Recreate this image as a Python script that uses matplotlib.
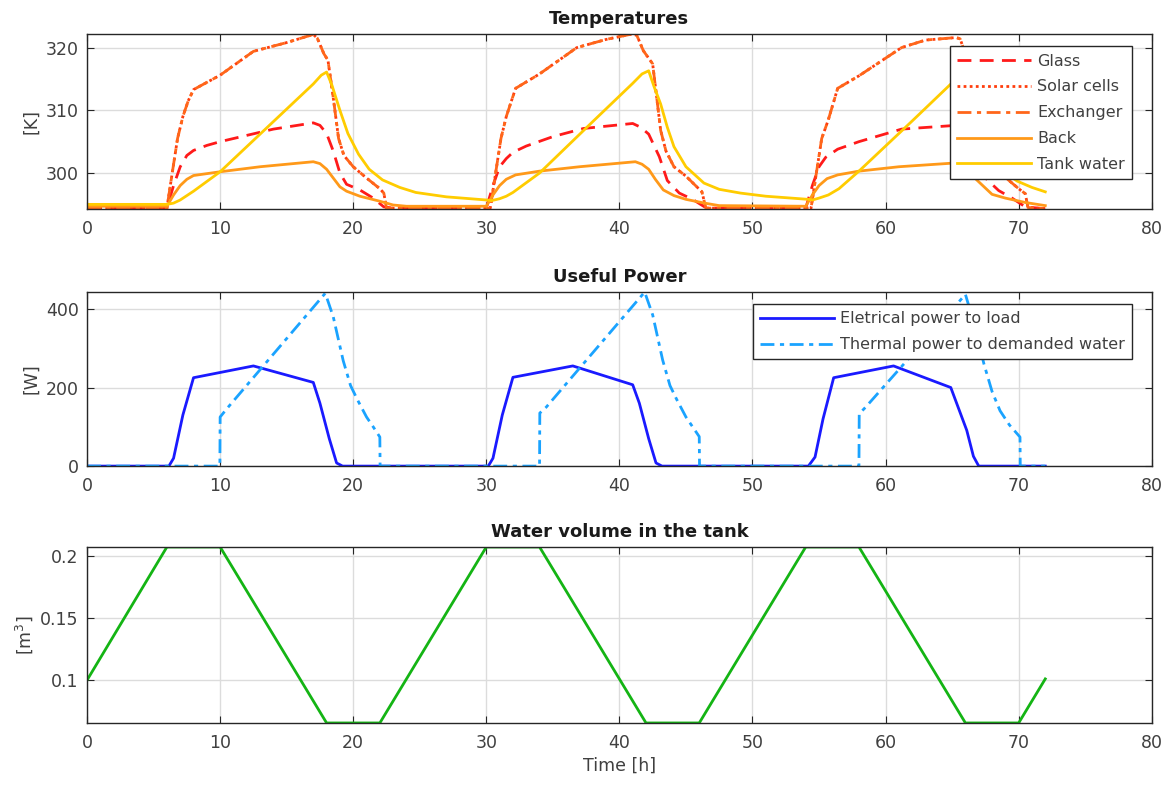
import matplotlib
matplotlib.use("Agg")
import matplotlib.pyplot as plt

# ---- Temperatures [K] ----
glass_t = [0, 6, 6.5, 7, 7.5, 8, 9, 10, 12, 14, 17, 17.5, 18, 18.5, 19, 19.5, 20.5, 21.5, 22.3, 23,
           30, 30.5, 31, 31.5, 32, 33, 35, 37.3, 41, 41.6, 42.2, 43, 43.6, 44.5, 45.5, 46.4, 47,
           54, 54.5, 55, 55.5, 56.4, 58, 61.2, 65.3, 65.8, 66.3, 67, 67.6, 68.5, 69.5, 70.5, 72]
glass_T = [294.4, 294.4, 298.0, 301.0, 302.8, 303.6, 304.4, 305.0, 306.0, 307.0, 308.0, 307.6, 306.3, 303.5, 300.0, 298.2, 297.3, 296.0, 294.6, 294.4,
           294.4, 298.0, 301.0, 302.3, 303.3, 304.3, 305.8, 307.1, 307.9, 307.3, 306.2, 302.6, 298.8, 296.8, 295.8, 294.6, 294.4,
           294.4, 298.0, 301.0, 302.5, 303.8, 305.0, 307.0, 307.6, 307.2, 306.0, 302.0, 299.0, 297.2, 296.0, 294.6, 294.3]

exch_t = [0, 6, 6.4, 6.8, 7.2, 7.6, 8, 10, 12.5, 15, 17, 17.3, 17.8, 18.1, 18.5, 18.9, 19.3, 20, 21, 22, 22.3, 22.5,
          30.3, 30.7, 31.1, 31.5, 32.2, 34, 36.8, 39, 40.8, 41.3, 41.8, 42.5, 43.1, 43.5, 44.1, 45, 46.2, 46.5,
          54.4, 54.8, 55.2, 55.7, 56.4, 58, 61.2, 63, 65.3, 65.6, 66, 66.5, 67, 67.5, 68.2, 69, 70, 70.5, 70.7, 72]
exch_T = [294.4, 294.4, 300.0, 305.5, 309.0, 311.5, 313.3, 315.6, 319.4, 320.8, 322.1, 321.5, 319.0, 318.0, 312.0, 305.5, 302.8, 301.0, 299.2, 297.5, 296.8, 294.4,
          294.4, 300.0, 305.5, 309.0, 313.5, 315.8, 320.0, 321.3, 322.1, 322.0, 319.5, 317.4, 306.8, 303.5, 301.0, 299.5, 297.0, 294.4,
          294.4, 300.0, 305.5, 308.5, 313.5, 315.5, 320.0, 321.2, 321.6, 321.4, 319.0, 316.5, 306.0, 303.0, 301.0, 299.3, 297.5, 296.7, 294.5, 294.3]

# solar cells sit right under the exchanger curve in the picture
cells_t = exch_t
cells_T = exch_T

back_t = [0, 6, 6.5, 7, 7.5, 8, 10, 13, 17, 17.5, 18, 18.5, 19, 19.5, 20.5, 22, 23, 24,
          30, 30.5, 31, 31.5, 32.2, 34, 37, 41.2, 41.7, 42.2, 42.7, 43.3, 44.1, 45, 46.4, 47.5,
          54, 54.5, 55, 55.6, 56.4, 58, 61, 65.2, 65.7, 66.2, 66.8, 67.3, 68, 69, 70.5, 72]
back_T = [294.7, 294.7, 296.5, 298.0, 299.0, 299.6, 300.2, 301.0, 301.8, 301.5, 300.6, 299.2, 297.8, 297.1, 296.3, 295.5, 294.9, 294.7,
          294.7, 296.5, 298.0, 299.0, 299.7, 300.3, 301.0, 301.8, 301.4, 300.6, 299.0, 297.3, 296.4, 295.8, 295.2, 294.8,
          294.7, 296.5, 298.0, 299.1, 299.7, 300.3, 301.0, 301.6, 301.3, 300.4, 299.0, 298.0, 296.6, 296.0, 295.3, 294.8]

tank_t = [0, 6, 6.5, 7, 7.5, 8, 10, 14, 17, 17.6, 18, 18.4, 19, 19.6, 20.4, 21.2, 22.2, 23.5, 24.7, 27, 30,
          30.4, 31, 31.5, 32, 34, 38, 41, 41.7, 42.2, 42.6, 43.1, 43.6, 44.1, 45, 46.35, 47.5, 49.1, 51, 54.2,
          54.5, 55, 55.7, 56.5, 58, 62, 65.3, 66, 66.3, 66.8, 67.3, 68, 69, 69.9, 71, 72]
tank_T = [295.0, 295.0, 295.2, 295.7, 296.4, 297.1, 300.2, 308.2, 314.2, 315.6, 316.1, 314.0, 310.0, 306.3, 303.0, 300.6, 298.9, 297.7, 296.9, 296.2, 295.7,
          295.6, 295.9, 296.3, 296.9, 300.0, 308.2, 314.3, 315.8, 316.3, 313.8, 311.0, 307.3, 304.2, 301.0, 298.4, 297.4, 296.8, 296.3, 295.8,
          295.7, 296.0, 296.5, 297.5, 300.3, 308.3, 315.0, 316.0, 315.5, 312.0, 308.0, 303.5, 300.0, 298.7, 297.7, 297.0]

# ---- Useful power [W] ----
elec_t = [0, 6.15, 6.5, 7.2, 8, 12.5, 17, 17.5, 18.2, 18.75, 19.2,
          30.15, 30.5, 31.2, 32, 36.5, 41, 41.5, 42.2, 42.75, 43.2,
          54.2, 54.7, 55.3, 56.1, 60.6, 64.9, 66.1, 66.6, 67, 72]
elec_P = [0, 0, 20, 130, 225, 255, 213, 160, 70, 8, 0,
          0, 20, 130, 226, 255, 207, 160, 70, 8, 0,
          0, 23, 120, 225, 255, 200, 91, 25, 0, 0]

therm_t = [0, 9.98, 10.0, 10.5, 17.9, 18.5, 19.25, 19.8, 20.3, 21, 21.5, 22, 22.02,
           34.0, 34.02, 34.5, 41.9, 42.5, 43.25, 43.8, 44.3, 45, 45.5, 46, 46.02,
           58.0, 58.02, 58.5, 66.0, 66.5, 67.4, 68.0, 68.6, 69.3, 70.1, 70.12, 72]
therm_P = [0, 0, 125, 146, 440, 380, 268, 205, 170, 125, 100, 74, 0,
           0, 135, 150, 443, 385, 270, 205, 170, 125, 100, 75, 0,
           0, 133, 150, 437, 380, 259, 190, 141, 105, 74, 0, 0]

# ---- Water volume in the tank [m3] ----
vol_t = [0, 6, 10, 18, 22, 30, 34, 42, 46, 54, 58, 66, 70, 72]
vol_V = [0.1, 0.207, 0.207, 0.0656, 0.0656, 0.207, 0.207, 0.0656, 0.0656, 0.207, 0.207, 0.0656, 0.0656, 0.101]

plt.rcParams['font.family'] = ['DejaVu Sans']
plt.rcParams['font.size'] = 12.5

fig = plt.figure(figsize=(11.7, 7.86), dpi=100)
ax1 = fig.add_axes([0.0744, 0.734, 0.910, 0.2226])
ax2 = fig.add_axes([0.0744, 0.407, 0.910, 0.2214])
ax3 = fig.add_axes([0.0744, 0.0802, 0.910, 0.2239])

edge = '#262626'
lab = '#404040'


def style(ax):
    ax.set_xlim(0, 80)
    ax.set_xticks(range(0, 81, 10))
    ax.grid(True, color='#dcdcdc', linewidth=1.0)
    ax.set_axisbelow(True)
    ax.tick_params(direction='in', top=True, right=True, colors=edge, labelcolor=lab,
                   labelsize=12.5, length=5)
    ax.tick_params(axis='x', pad=8)
    ax.tick_params(axis='y', pad=6)
    for s in ax.spines.values():
        s.set_color(edge)
        s.set_linewidth(1.0)


def legend(ax):
    leg = ax.legend(loc='upper right', bbox_to_anchor=(0.9815, 0.93), fontsize=11.5,
                    handlelength=4.6, borderpad=0.45, labelspacing=0.68, handletextpad=0.4,
                    borderaxespad=0.0, fancybox=False, framealpha=1, edgecolor=edge)
    leg.get_frame().set_linewidth(1.0)
    for t in leg.get_texts():
        t.set_color(lab)


lw = 2.0
dashdot = (5, 2, 1.5, 2)
# Temperatures
ax1.plot(glass_t, glass_T, color='#ff1a1a', lw=lw, dashes=(5, 3), label='Glass')
ax1.plot(cells_t, cells_T, color='#ff3d0d', lw=lw, dashes=(1, 1.2), label='Solar cells')
ax1.plot(exch_t, exch_T, color='#ff661a', lw=lw, dashes=dashdot, label='Exchanger')
ax1.plot(back_t, back_T, color='#ff9919', lw=lw, label='Back')
ax1.plot(tank_t, tank_T, color='#ffcc00', lw=lw, label='Tank water')
style(ax1)
allT = glass_T + exch_T + back_T + tank_T
ax1.set_ylim(min(allT) - 0.05, max(allT) + 0.05)
ax1.set_yticks([300, 310, 320])
ax1.set_ylabel('[K]', color=lab)
ax1.set_title('Temperatures', fontweight='bold', fontsize=13, color='#1a1a1a', pad=7)
legend(ax1)

# Useful power
ax2.plot(elec_t, elec_P, color='#1a1aff', lw=lw, label='Eletrical power to load')
ax2.plot(therm_t, therm_P, color='#1aa3ff', lw=lw, dashes=dashdot,
         label='Thermal power to demanded water')
style(ax2)
ax2.set_ylim(0, max(therm_P))
ax2.set_yticks([0, 200, 400])
ax2.set_ylabel('[W]', color=lab)
ax2.set_title('Useful Power', fontweight='bold', fontsize=13, color='#1a1a1a', pad=7)
legend(ax2)

# Water volume
ax3.plot(vol_t, vol_V, color='#14b414', lw=lw)
style(ax3)
ax3.set_ylim(min(vol_V), max(vol_V))
ax3.set_yticks([0.1, 0.15, 0.2])
ax3.set_yticklabels(['0.1', '0.15', '0.2'])
ax3.set_ylabel('[m$^3$]', color=lab)
ax3.set_xlabel('Time [h]', color=lab, labelpad=3)
ax3.set_title('Water volume in the tank', fontweight='bold', fontsize=13, color='#1a1a1a', pad=7)

fig.savefig('out.png', dpi=100)
